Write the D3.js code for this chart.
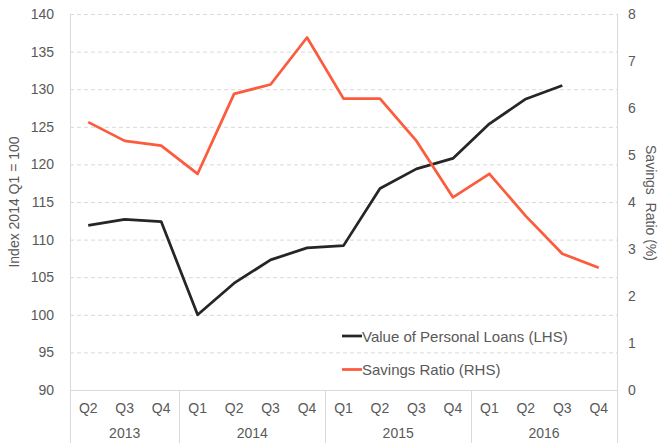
<!DOCTYPE html>
<html><head><meta charset="utf-8">
<script src="https://cdn.jsdelivr.net/npm/d3@7"></script>
<style>body{margin:0;background:#fff}svg{display:block;font-family:"Liberation Sans",Arial,sans-serif}</style>
</head><body><svg id="c" width="660" height="443"></svg>
<script>
const quarters = ["Q2","Q3","Q4","Q1","Q2","Q3","Q4","Q1","Q2","Q3","Q4","Q1","Q2","Q3","Q4"];
const years = [{label:"2013",n:3},{label:"2014",n:4},{label:"2015",n:4},{label:"2016",n:4}];
const loans = [111.9,112.7,112.4,100,104.2,107.3,108.9,109.2,116.8,119.4,120.8,125.4,128.7,130.5,null];
const savings = [5.7,5.3,5.2,4.6,6.3,6.5,7.5,6.2,6.2,5.3,4.1,4.6,3.7,2.9,2.6];
const leftTicks = [90,95,100,105,110,115,120,125,130,135,140];
const rightTicks = [0,1,2,3,4,5,6,7,8];
const legendLabels = ["Value of Personal Loans (LHS)","Savings Ratio (RHS)"];

const svg = d3.select("#c");
const L=70,R=617,T=14,B=390;
const txt="#595959", grid="#d9d9d9";
const x = d3.scaleBand().domain(d3.range(quarters.length)).range([L,R]);
const yL = d3.scaleLinear().domain([90,140]).range([B,T]);
const yR = d3.scaleLinear().domain([0,8]).range([B,T]);

// gridlines
svg.append("g").selectAll("line").data(leftTicks.filter(d=>d>90)).join("line")
  .attr("x1",L).attr("x2",R).attr("y1",d=>yL(d)+0.5).attr("y2",d=>yL(d)+0.5)
  .attr("stroke",grid).attr("stroke-dasharray","4,3");
// frame lines
svg.append("line").attr("x1",L+0.5).attr("x2",L+0.5).attr("y1",T).attr("y2",443).attr("stroke",grid);
svg.append("line").attr("x1",R+0.5).attr("x2",R+0.5).attr("y1",T).attr("y2",443).attr("stroke",grid);
svg.append("line").attr("x1",L).attr("x2",R).attr("y1",B+0.5).attr("y2",B+0.5).attr("stroke",grid);
// year separators
let idx=0;
years.forEach((yv,i)=>{
  const start=idx, end=idx+yv.n-1;
  const xs = x(start), xe = x(end)+x.bandwidth();
  if(i>0) svg.append("line").attr("x1",Math.round(xs)+0.5).attr("x2",Math.round(xs)+0.5).attr("y1",B).attr("y2",443).attr("stroke",grid);
  svg.append("text").attr("x",(xs+xe)/2).attr("y",438).attr("text-anchor","middle")
    .attr("font-size",14).attr("fill",txt).text(yv.label);
  idx+=yv.n;
});
// quarter labels
svg.append("g").selectAll("text").data(quarters).join("text")
  .attr("x",(d,i)=>x(i)+x.bandwidth()/2).attr("y",413).attr("text-anchor","middle")
  .attr("font-size",14).attr("fill",txt).text(d=>d);
// left ticks
svg.append("g").selectAll("text").data(leftTicks).join("text")
  .attr("x",54).attr("y",d=>yL(d)+5).attr("text-anchor","end")
  .attr("font-size",14).attr("fill",txt).text(d=>d);
// right ticks
svg.append("g").selectAll("text").data(rightTicks).join("text")
  .attr("x",628).attr("y",d=>yR(d)+5).attr("text-anchor","start")
  .attr("font-size",14).attr("fill",txt).text(d=>d);
// axis titles
svg.append("text").attr("transform","translate(19,202) rotate(-90)").attr("text-anchor","middle")
  .attr("font-size",14).attr("fill",txt).text("Index 2014 Q1 = 100");
svg.append("text").attr("transform","translate(646,203) rotate(90)").attr("text-anchor","middle")
  .attr("font-size",14).attr("fill",txt).attr("xml:space","preserve").text("Savings\u00a0 Ratio (%)");

const cx=i=>x(i)+x.bandwidth()/2;
svg.append("path").datum(loans.map((v,i)=>[i,v]).filter(d=>d[1]!=null))
  .attr("fill","none").attr("stroke","#262626").attr("stroke-width",2.75).attr("stroke-linejoin","round")
  .attr("d",d3.line().x(d=>cx(d[0])).y(d=>yL(d[1])));
svg.append("path").datum(savings.map((v,i)=>[i,v]))
  .attr("fill","none").attr("stroke","#FC5B3D").attr("stroke-width",2.75).attr("stroke-linejoin","round")
  .attr("d",d3.line().x(d=>cx(d[0])).y(d=>yR(d[1])));

// legend
const legColors=["#262626","#FC5B3D"];
legendLabels.forEach((t,i)=>{
  const yy=336+i*33.5;
  svg.append("line").attr("x1",342).attr("x2",362).attr("y1",yy).attr("y2",yy)
    .attr("stroke",legColors[i]).attr("stroke-width",2.75);
  svg.append("text").attr("x",362).attr("y",yy+5.5).attr("font-size",15).attr("fill",txt).text(t);
});
</script></body></html>
